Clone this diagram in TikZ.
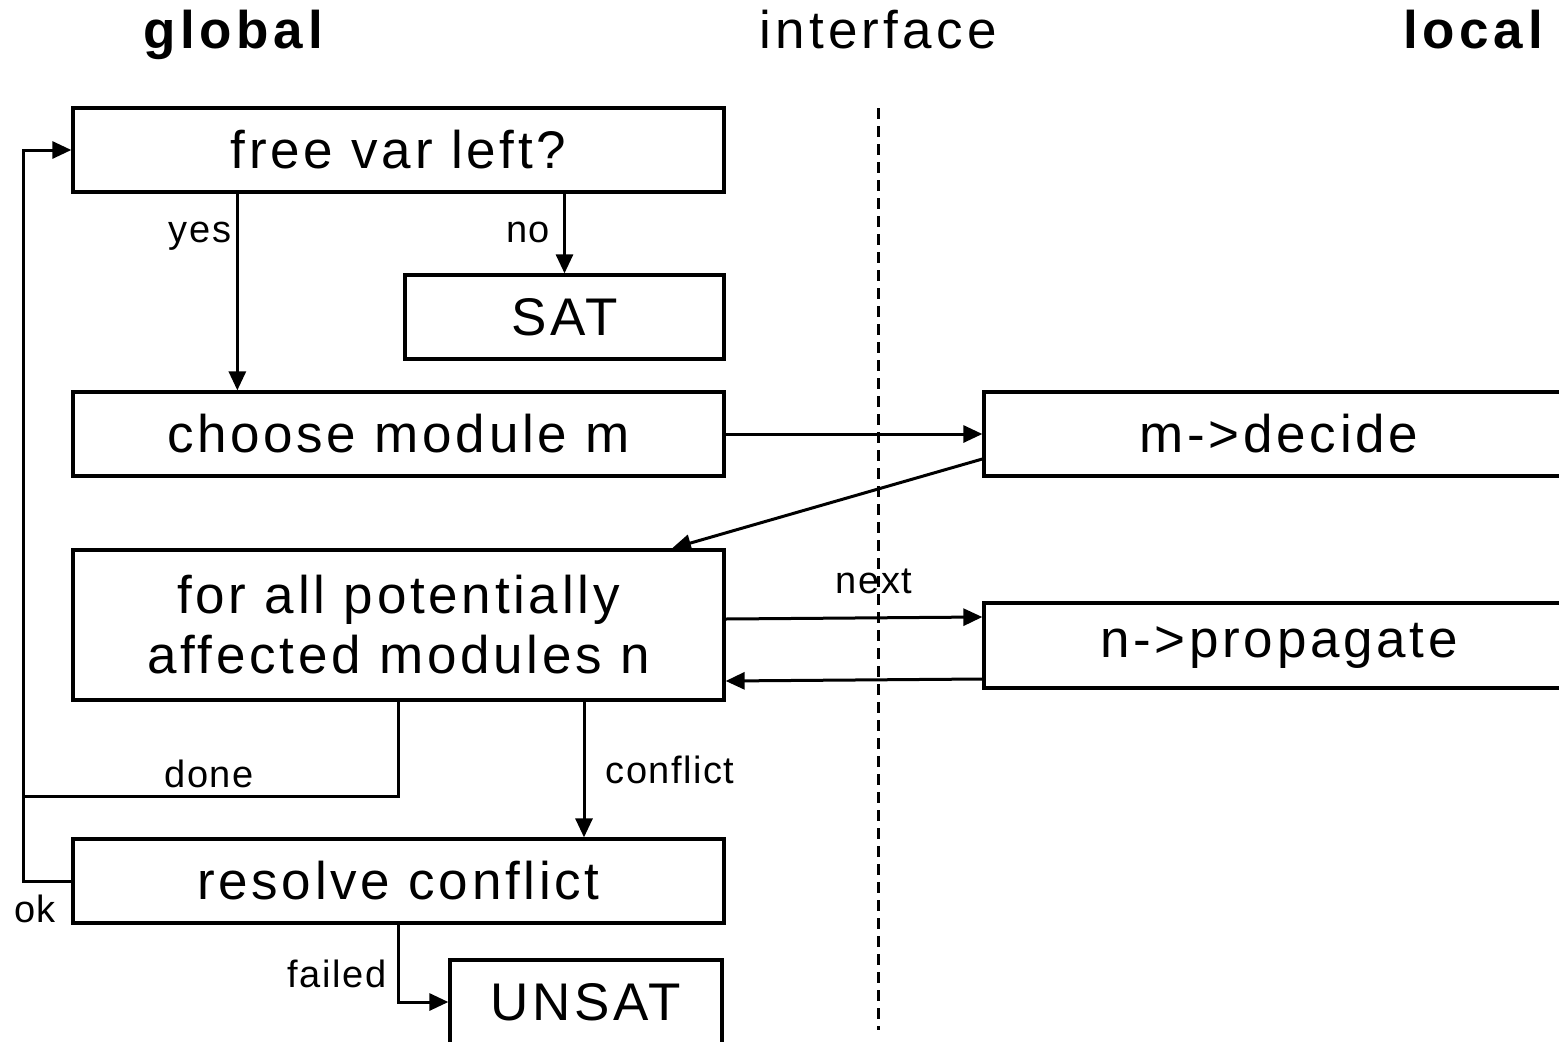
\documentclass[tikz,border=0pt]{standalone}
\usepackage{fontspec}
\setmainfont{Liberation Sans}
\newfontfamily\boxfont[LetterSpace=7]{Liberation Sans}
\newfontfamily\lblfont[LetterSpace=4]{Liberation Sans}
\newfontfamily\headfont[LetterSpace=8]{Liberation Sans}
\newfontfamily\headbold[LetterSpace=9]{Liberation Sans Bold}
\usetikzlibrary{arrows.meta}
\begin{document}
\begin{tikzpicture}[x=1pt,y=-1pt,
  box/.style={draw, line width=3.3pt, inner sep=0pt, minimum height=84pt,
    font=\boxfont\fontsize{53}{60}\selectfont, align=center},
  conn/.style={line width=3pt},
  arr/.style={conn, -{Triangle[length=19pt,width=17pt]}},
  lbl/.style={anchor=base, inner sep=0pt, font=\lblfont\fontsize{38}{44}\selectfont},
  head/.style={anchor=base, inner sep=0pt, font=\headfont\fontsize{53}{60}\selectfont},
  headb/.style={anchor=base, inner sep=0pt, font=\headbold\fontsize{53}{60}\selectfont}]
\clip (0,0) rectangle (1559,1042);
\fill[white] (0,0) rectangle (1559,1042);

% headings
\node[headb] (hglobal) at (233,48) {global};
\node[head] (hinter) at (878,48) {interface};
\node[headb] (hlocal) at (1473,48) {local};

% dashed separator
\coordinate (dtop) at (878,108);
\coordinate (dbot) at (878,1030);
\draw[conn, dash pattern=on 11pt off 7pt] (dtop) -- (dbot);

% boxes
\node[box, minimum width=651pt] (free) at (398.5,150) {free var left?};
\node[box, minimum width=319pt] (sat) at (564.5,317) {SAT};
\node[box, minimum width=651pt] (choose) at (398.5,434) {choose module m};
\node[box, minimum width=590pt] (decide) at (1279,434) {m->decide};
\node[box, minimum width=651pt, minimum height=150pt] (forall) at (398.5,625) {for all potentially\\affected modules n};
\node[box, minimum width=590pt, minimum height=85pt] (prop) at (1279,645.5) {n->propagate};
\node[box, minimum width=651pt] (resolve) at (398.5,881) {resolve conflict};
\node[box, minimum width=272pt] (unsat) at (586,1002) {UNSAT};

% connectors
\draw[arr] ([xshift=166pt]free.south west) -- ([xshift=166pt]choose.north west);
\draw[arr] (free.south -| sat.north) -- (sat.north);
\draw[arr] (choose.east) -- (decide.west);
\draw[arr] ([yshift=-25pt]decide.west) -- ([xshift=273.5pt]forall.north);
\draw[arr] ([yshift=6pt]forall.east) -- ([yshift=28.5pt]prop.west);
\draw[arr] ([yshift=-33.5pt]prop.west) -- ([yshift=-56pt]forall.east);
\draw[arr] ([xshift=185.5pt]forall.south) -- ([xshift=185.5pt]resolve.north);
\coordinate (loopjoin) at (25,796);
\draw[conn] (forall.south) |- (loopjoin);
\draw[arr] (resolve.west) -- ++(-48,0) |- (free.west);
\draw[arr] (resolve.south) |- (unsat.west);

% labels
\node[lbl] (lyes) at (200,242) {yes};
\node[lbl] (lno) at (528,242) {no};
\node[lbl] (lnext) at (874,593) {next};
\node[lbl] (ldone) at (209,787) {done};
\node[lbl] (lconf) at (670,783) {conflict};
\node[lbl] (lok) at (35,922) {ok};
\node[lbl] (lfail) at (337,987) {failed};
\end{tikzpicture}
\end{document}
